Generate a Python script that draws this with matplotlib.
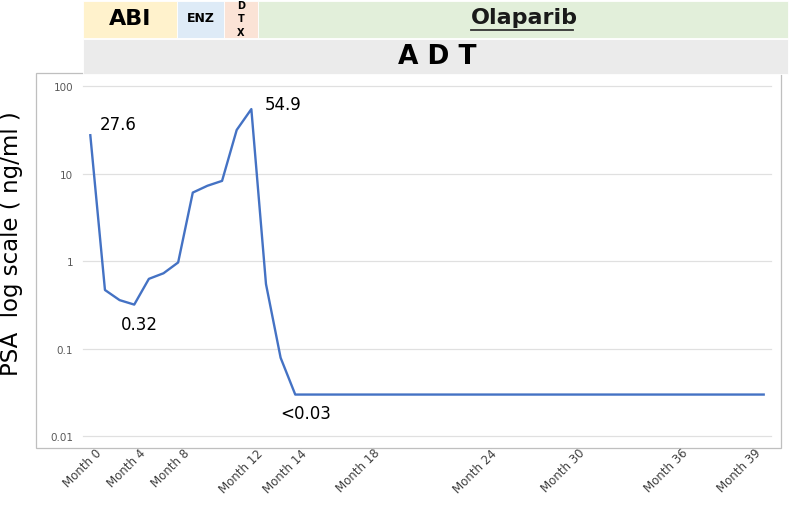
import matplotlib
matplotlib.use('Agg')
import matplotlib.pyplot as plt
import matplotlib.transforms as mtrans
from matplotlib.patches import Rectangle
from matplotlib.lines import Line2D
from matplotlib.ticker import NullLocator

# PSA values, one per category on the x axis (ng/ml)
psa = [27.6, 0.47, 0.36, 0.32, 0.63, 0.73, 0.97, 6.1, 7.3, 8.3, 31.7, 54.9,
       0.55, 0.079, 0.03, 0.03, 0.03, 0.03, 0.03, 0.03, 0.03, 0.03, 0.03, 0.03,
       0.03, 0.03, 0.03, 0.03, 0.03, 0.03, 0.03, 0.03, 0.03, 0.03, 0.03, 0.03,
       0.03, 0.03, 0.03, 0.03, 0.03, 0.03, 0.03, 0.03, 0.03, 0.03, 0.03]

# which categories carry a month label
tick_idx = [0, 3, 6, 11, 14, 19, 27, 33, 40, 45]
tick_labels = ['Month 0', 'Month 4', 'Month 8', 'Month 12', 'Month 14',
               'Month 18', 'Month 24', 'Month 30', 'Month 36', 'Month 39']

y_ticks = [0.01, 0.1, 1, 10, 100]
y_tick_labels = ['0.01', '0.1', '1', '10', '100']

# annotated points: index, text
notes_idx = [0, 3, 11, 14]
notes_text = ['27.6', '0.32', '54.9', '<0.03']

# treatment banner (top row) and ADT banner (second row)
treatments = ['ABI', 'ENZ', 'D\nT\nX', 'Olaparib']
treat_colors = ['#FFF2CC', '#DEEBF7', '#FBE3D6', '#E2EFDA']
treat_edges = [83, 177, 224, 258, 788]  # pixel edges of each box

W, H = 790, 510


def fx(px):
    return px / W


def fy(py):
    return 1 - py / H


fig = plt.figure(figsize=(W / 100, H / 100), dpi=100)
fig.patch.set_facecolor('white')

# outer chart border
fig.add_artist(Rectangle((fx(36), fy(449)), (781 - 36) / W, (449 - 74) / H,
                         transform=fig.transFigure, fill=False,
                         edgecolor='#BFBFBF', linewidth=0.9, zorder=0))

# main plot
ax = fig.add_axes([fx(83), fy(437.3), (771 - 83) / W, (437.3 - 87.3) / H])
x = list(range(len(psa)))
ax.plot(x, psa, color='#4472C4', linewidth=1.7, zorder=3)
ax.set_yscale('log')
ax.set_ylim(0.01, 100)
ax.set_xlim(-0.5, len(psa) - 0.5)
ax.set_yticks(y_ticks)
ax.set_yticklabels(y_tick_labels)
ax.yaxis.set_minor_locator(NullLocator())
ax.tick_params(axis='y', length=0, pad=7, labelsize=7.5, labelcolor='#595959')
ax.tick_params(axis='x', length=0, pad=7)
ax.set_xticks(tick_idx)
ax.set_xticklabels(tick_labels, rotation=45, ha='right', va='top',
                   rotation_mode='anchor', fontsize=8.5, color='#404040')
# nudge the rotated labels a little to the right, like the original
shift = mtrans.ScaledTranslation(5 / 100, 0, fig.dpi_scale_trans)
for lab in ax.get_xticklabels():
    lab.set_transform(lab.get_transform() + shift)
ax.grid(axis='y', color='#E0E0E0', linewidth=0.9)
for g in ax.get_ygridlines():
    g.set_clip_on(False)
ax.set_axisbelow(True)
for s in ax.spines.values():
    s.set_visible(False)
ax.patch.set_alpha(0)

offsets = {0: (6.5, 8), 3: (-9.4, -13.7), 11: (9.4, 3.6), 14: (-10.8, -13)}
for i, txt in zip(notes_idx, notes_text):
    ax.annotate(txt, xy=(i, psa[i]), xytext=offsets[i],
                textcoords='offset points', ha='left', va='center',
                fontsize=12, color='black')

fig.text(fx(12), fy(244), 'PSA  log scale ( ng/ml )', rotation=90,
         ha='center', va='center', fontsize=16.5, color='black')

# banners
for name, col, x0, x1 in zip(treatments, treat_colors, treat_edges[:-1], treat_edges[1:]):
    fig.add_artist(Rectangle((fx(x0), fy(39)), (x1 - x0) / W, 37 / H,
                             transform=fig.transFigure, facecolor=col,
                             edgecolor='white', linewidth=0.6, zorder=1))
fig.add_artist(Rectangle((fx(83), fy(75)), (788 - 83) / W, 35 / H,
                         transform=fig.transFigure, facecolor='#EBEBEB',
                         edgecolor='white', linewidth=0.6, zorder=1))

fig.text(fx(130), fy(19), treatments[0], ha='center', va='center', fontsize=16,
         fontweight='bold', zorder=2)
fig.text(fx(201), fy(19), treatments[1], ha='center', va='center', fontsize=9,
         fontweight='bold', zorder=2)
fig.text(fx(241), fy(19.5), treatments[2], ha='center', va='center', fontsize=7,
         fontweight='bold', linespacing=1.45, zorder=2)
ola = fig.text(fx(524), fy(18), treatments[3], ha='center', va='center',
               fontsize=16, fontweight='bold', color='#1a1a1a', zorder=2)
fig.text(fx(437), fy(57), 'A D T', ha='center', va='center', fontsize=19,
         fontweight='bold', zorder=2)

# underline under Olaparib
fig.canvas.draw()
bb = ola.get_window_extent()
fig.add_artist(Line2D([bb.x0 / W + 0.001, bb.x1 / W - 0.006],
                      [fy(30.5), fy(30.5)], transform=fig.transFigure,
                      color='#333333', linewidth=1.3, zorder=2))

fig.savefig('out.png', dpi=100)
